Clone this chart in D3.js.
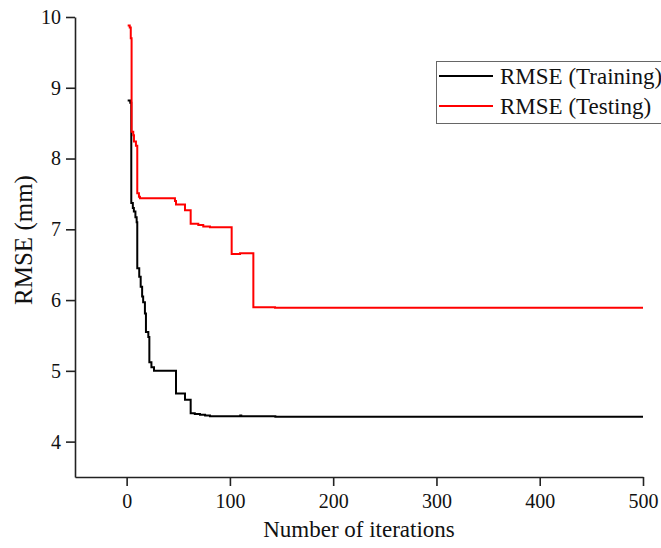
<!DOCTYPE html>
<html lang="en">

<head>
    <meta charset="UTF-8">
    <title>RMSE</title>
    <script src="https://d3js.org/d3.v7.min.js"></script>
    <style>
        body { margin: 0; background: #fff; }
        text { font-family: "Liberation Serif", "Times New Roman", serif; }
    </style>
</head>

<body>
    <div id="chart"></div>
    <script>
        // training curve (iteration, rmse) - step data
        var trainIter = [1, 3.5, 4.5, 6, 7, 8.5, 9.7, 10.3, 12.2, 13.6, 15, 16, 17.7, 18.7, 21, 22, 24, 26.5, 47.8, 56.5, 62, 66, 71, 76, 80.7, 110, 111, 144, 500];
        var trainRmse = [8.82, 8.79, 7.37, 7.3, 7.25, 7.17, 7.1, 6.45, 6.33, 6.19, 6.05, 5.97, 5.81, 5.55, 5.48, 5.12, 5.05, 5.0, 4.68, 4.59, 4.4, 4.39, 4.38, 4.37, 4.36, 4.37, 4.36, 4.35, 4.35];
        // testing curve
        var testIter = [1, 3, 4, 4.8, 6.4, 7.1, 9, 10.3, 11.9, 12.9, 46.8, 47.8, 56.5, 62, 69.4, 74.2, 80.7, 101.7, 109.8, 122.7, 143.7, 500];
        var testRmse = [9.88, 9.85, 9.7, 8.38, 8.33, 8.24, 8.18, 7.51, 7.46, 7.44, 7.4, 7.35, 7.27, 7.08, 7.06, 7.04, 7.03, 6.65, 6.66, 5.9, 5.89, 5.89];

        var xTicks = [0, 100, 200, 300, 400, 500];
        var yTicks = [4, 5, 6, 7, 8, 9, 10];
        var legendLabels = ["RMSE (Training)", "RMSE (Testing)"];
        var colors = ["#000000", "#ff0000"];

        var w = 661,
            h = 548;

        var x = d3.scaleLinear().domain([-50, 500]).range([75, 643]);
        var y = d3.scaleLinear().domain([3.5, 10]).range([477, 17]);

        var svg = d3.select("#chart").append("svg")
            .attr("width", w)
            .attr("height", h);

        // axes
        var gx = svg.append("g")
            .attr("transform", "translate(0," + y(3.5) + ")")
            .call(d3.axisBottom(x).tickValues(xTicks).tickFormat(d3.format("d"))
                .tickSize(9).tickSizeOuter(0).tickPadding(8));
        var gy = svg.append("g")
            .attr("transform", "translate(" + x(-50) + ",0)")
            .call(d3.axisLeft(y).tickValues(yTicks).tickFormat(d3.format("d"))
                .tickSize(9).tickSizeOuter(0).tickPadding(5));

        svg.selectAll(".domain, .tick line")
            .attr("stroke", "#222")
            .attr("stroke-width", 1.6);
        svg.selectAll(".tick text")
            .attr("font-size", 20)
            .attr("fill", "#111")
            .style("font-family", "'Liberation Serif', serif");

        // axis titles
        svg.append("text")
            .attr("x", x(225))
            .attr("y", 537)
            .attr("text-anchor", "middle")
            .attr("font-size", 23)
            .attr("fill", "#111")
            .text("Number of iterations");
        svg.append("text")
            .attr("transform", "translate(32,240) rotate(-90)")
            .attr("text-anchor", "middle")
            .attr("font-size", 25)
            .attr("fill", "#111")
            .text("RMSE (mm)");

        // curves
        var line = d3.line()
            .curve(d3.curveStepAfter)
            .x(function(d) { return x(d[0]); })
            .y(function(d) { return y(d[1]); });

        var series = [d3.zip(trainIter, trainRmse), d3.zip(testIter, testRmse)];

        svg.selectAll("path.curve")
            .data(series)
            .enter()
            .append("path")
            .attr("class", "curve")
            .attr("fill", "none")
            .attr("stroke", function(d, i) { return colors[i]; })
            .attr("stroke-width", 2)
            .attr("d", line);

        // legend (box runs past the right edge like the original)
        var lg = svg.append("g").attr("transform", "translate(436,61)");
        lg.append("rect")
            .attr("x", 0.5)
            .attr("y", 0.5)
            .attr("width", 260)
            .attr("height", 62)
            .attr("fill", "#fff")
            .attr("stroke", "#666")
            .attr("stroke-width", 1);

        var items = lg.selectAll("g.item")
            .data(legendLabels)
            .enter()
            .append("g")
            .attr("class", "item")
            .attr("transform", function(d, i) { return "translate(0," + (15 + i * 30) + ")"; });
        items.append("line")
            .attr("x1", 3)
            .attr("x2", 57)
            .attr("stroke", function(d, i) { return colors[i]; })
            .attr("stroke-width", 2);
        items.append("text")
            .attr("x", 64)
            .attr("dy", "0.33em")
            .attr("font-size", 23)
            .attr("fill", "#111")
            .text(function(d) { return d; });
    </script>
</body>

</html>
